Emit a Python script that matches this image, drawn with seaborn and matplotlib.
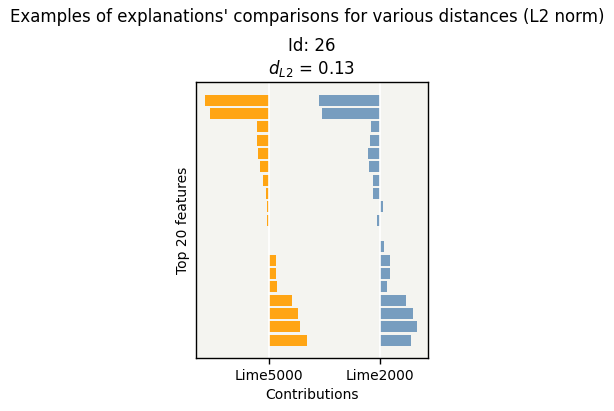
import matplotlib
matplotlib.use("Agg")
import matplotlib.pyplot as plt
import seaborn as sns
import numpy as np

methods = ["Lime5000", "Lime2000"]
features = [f"f{i}" for i in range(19)]
lime5000 = [-0.577, -0.53, -0.108, -0.108, -0.099, -0.081, -0.054, -0.027, -0.018, -0.018,
            0.0, 0.0, 0.063, 0.063, 0.072, 0.207, 0.261, 0.279, 0.342]
lime2000 = [-0.553, -0.525, -0.084, -0.093, -0.111, -0.102, -0.066, -0.066, 0.024, -0.030,
            0.0, 0.033, 0.087, 0.087, 0.060, 0.231, 0.294, 0.330, 0.276]
colors = ["#ffa514", "#779dbf"]

sns.set_style("white")
plt.rcParams['font.family'] = ['DejaVu Sans']
plt.rcParams['text.color'] = 'black'
plt.rcParams['axes.labelcolor'] = 'black'
plt.rcParams['xtick.color'] = 'black'
plt.rcParams['ytick.color'] = 'black'

fig = plt.figure(figsize=(6.14, 4.11), dpi=100)
ax = fig.add_axes([0.319, 0.1282, 0.3779, 0.6716])
ax.set_facecolor("#f4f4f0")

ypos = np.arange(len(features))
for i, (vals, c) in enumerate(zip([lime5000, lime2000], colors)):
    ax.barh(ypos, vals, left=i, height=0.82, color=c, edgecolor="none", zorder=1)

ax.set_xticks([0, 1])
ax.set_xticklabels(methods)
ax.set_yticks([])
ax.invert_yaxis()
ax.set_xlim(-0.66, 1.43)
ax.set_axisbelow('line')
ax.grid(axis="x", color="white", linewidth=1.2)
for s in ax.spines.values():
    s.set_visible(True)
    s.set_color("black")
    s.set_linewidth(1.0)
ax.tick_params(axis="x", bottom=True, length=4, width=1, color="black", labelsize=10, labelcolor="black")
ax.set_xlabel("Contributions", fontsize=10, color="black")
ax.set_ylabel("Top 20 features", fontsize=10, color="black")
ax.set_title("Id: 26\n$d_{L2}$ = 0.13", fontsize=12, color="black")
fig.suptitle("Examples of explanations' comparisons for various distances (L2 norm)", fontsize=12, y=0.98, color="black")

fig.savefig("out.png", dpi=100)
